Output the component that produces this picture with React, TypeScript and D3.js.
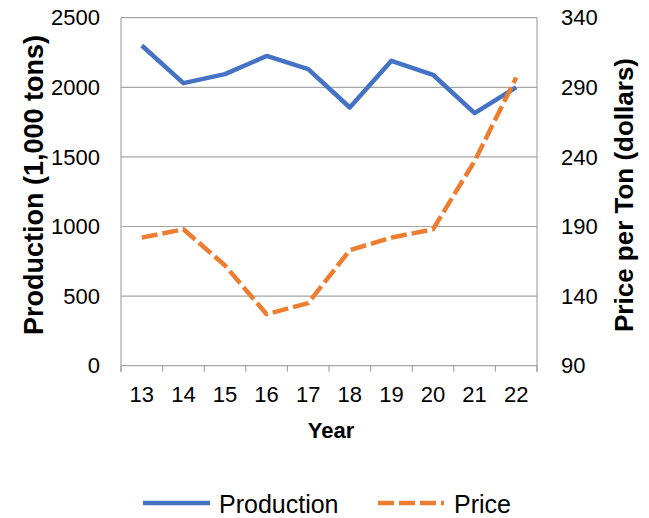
import * as d3 from "d3";

const years = ["13", "14", "15", "16", "17", "18", "19", "20", "21", "22"];
const production = [2300, 2030, 2095, 2225, 2130, 1855, 2190, 2090, 1815, 2000];
const price = [182, 188, 162, 127, 135, 173, 182, 188, 237, 297];
const prodTicks = [0, 500, 1000, 1500, 2000, 2500];
const priceTicks = [90, 140, 190, 240, 290, 340];

const W = 649;
const H = 518;
const left = 121;
const right = 537;
const top = 17.7;
const bottom = 365.7;

const font = "'Liberation Sans', Arial, sans-serif";
const blue = "#4472C4";
const orange = "#ED7D31";
const grid = "#A6A6A6";
const dash = "16,5";

export default function App() {
  const x = d3.scaleBand<string>().domain(years).range([left, right]);
  const yL = d3.scaleLinear().domain([0, 2500]).range([bottom, top]);
  const yR = d3.scaleLinear().domain([90, 340]).range([bottom, top]);

  const prodLine = d3
    .line<number>()
    .x((_, i) => x(years[i])! + x.bandwidth() / 2)
    .y((d) => yL(d));
  const priceLine = d3
    .line<number>()
    .x((_, i) => x(years[i])! + x.bandwidth() / 2)
    .y((d) => yR(d));

  const tickXs = years.map((y) => x(y)!).concat([right]);

  return (
    <svg
      width={W}
      height={H}
      style={{ position: "absolute", left: 0, top: 0, background: "#fff" }}
      fontFamily={font}
    >
      {/* gridlines */}
      {prodTicks.map((t) => (
        <line key={t} x1={left} x2={right} y1={yL(t)} y2={yL(t)} stroke={grid} strokeWidth={1.2} />
      ))}
      {/* axes */}
      <line x1={left} x2={left} y1={top} y2={bottom + 6} stroke={grid} strokeWidth={1.2} />
      <line x1={right} x2={right} y1={top} y2={bottom + 6} stroke={grid} strokeWidth={1.2} />
      {tickXs.map((tx, i) => (
        <line key={i} x1={tx} x2={tx} y1={bottom} y2={bottom + 6} stroke={grid} strokeWidth={1.2} />
      ))}

      {/* left tick labels */}
      {prodTicks.map((t) => (
        <text key={t} x={100} y={yL(t)} dy="0.35em" textAnchor="end" fontSize={22} fill="#000">
          {t}
        </text>
      ))}
      {/* right tick labels */}
      {priceTicks.map((t) => (
        <text key={t} x={561} y={yR(t)} dy="0.35em" textAnchor="start" fontSize={22} fill="#000">
          {t}
        </text>
      ))}
      {/* category labels */}
      {years.map((y) => (
        <text key={y} x={x(y)! + x.bandwidth() / 2} y={401.5} textAnchor="middle" fontSize={22} fill="#000">
          {y}
        </text>
      ))}

      {/* axis titles */}
      <text
        transform={`translate(43,185) rotate(-90)`}
        textAnchor="middle"
        fontSize={27}
        fontWeight="bold"
        fill="#000"
      >
        Production (1,000 tons)
      </text>
      <text
        transform={`translate(633,195) rotate(-90)`}
        textAnchor="middle"
        fontSize={26}
        fontWeight="bold"
        fill="#000"
      >
        Price per Ton (dollars)
      </text>
      <text x={331} y={438} textAnchor="middle" fontSize={22} fontWeight="bold" fill="#000">
        Year
      </text>

      {/* series */}
      <path d={prodLine(production)!} fill="none" stroke={blue} strokeWidth={4.5} strokeLinejoin="round" />
      <path
        d={priceLine(price)!}
        fill="none"
        stroke={orange}
        strokeWidth={4.5}
        strokeDasharray={dash}
        strokeLinejoin="round"
      />

      {/* legend */}
      <line x1={143} x2={210} y1={503} y2={503} stroke={blue} strokeWidth={4.5} />
      <text x={219} y={512.5} fontSize={25} fill="#000">
        Production
      </text>
      <line x1={378} x2={444} y1={503} y2={503} stroke={orange} strokeWidth={4.5} strokeDasharray={dash} />
      <text x={454} y={512.5} fontSize={25} fill="#000">
        Price
      </text>
    </svg>
  );
}
